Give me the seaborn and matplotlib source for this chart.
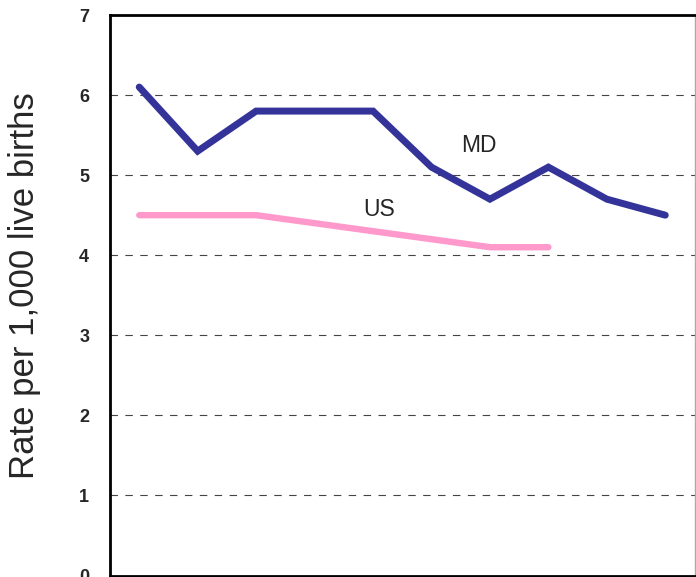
import matplotlib
matplotlib.use("Agg")
import matplotlib.pyplot as plt
import seaborn as sns
import pandas as pd

# data (10 periods, US stops earlier)
md_rates = [6.1, 5.3, 5.8, 5.8, 5.8, 5.1, 4.7, 5.1, 4.7, 4.5]
us_rates = [4.5, 4.5, 4.5, 4.4, 4.3, 4.2, 4.1, 4.1]
y_ticks = [0, 1, 2, 3, 4, 5, 6, 7]

md = pd.DataFrame({"period": range(len(md_rates)), "rate": md_rates})
us = pd.DataFrame({"period": range(len(us_rates)), "rate": us_rates})

sns.set_style("white")
plt.rcParams["font.family"] = ["Liberation Sans", "DejaVu Sans"]

fig = plt.figure(figsize=(6.96, 5.77), dpi=100)
ax = fig.add_axes([110 / 696, 1.5 / 577, 584.5 / 696, 560.5 / 577])

for y in range(1, 7):
    ax.axhline(y, color="#444444", lw=0.8, linestyle=(0, (6.7, 6.7)), zorder=1)

sns.lineplot(data=md, x="period", y="rate", ax=ax, color="#333399", lw=5,
             solid_capstyle="round", solid_joinstyle="miter", zorder=3)
sns.lineplot(data=us, x="period", y="rate", ax=ax, color="#FF99CC", lw=4.6,
             solid_capstyle="round", zorder=2)

ax.text(5.81, 5.37, "MD", fontsize=16.5, ha="center", va="center")
ax.text(4.11, 4.57, "US", fontsize=16.5, ha="center", va="center")

ax.set_xlim(-0.5, 9.5)
ax.set_ylim(0, 7)
ax.set_xticks([])
ax.set_yticks(y_ticks)
ax.set_yticklabels([str(t) for t in y_ticks], fontsize=13, fontweight="bold")
ax.tick_params(axis="y", length=0, pad=15)
ax.set_xlabel("")
ax.set_ylabel("Rate per 1,000 live births", fontsize=25)
ax.yaxis.set_label_coords(-0.118, 0.517)

for side in ["left", "top", "bottom"]:
    ax.spines[side].set_color("black")
    ax.spines[side].set_linewidth(2)
ax.spines["right"].set_color("#aaaaaa")
ax.spines["right"].set_linewidth(1)

fig.savefig("out.png", dpi=100)
